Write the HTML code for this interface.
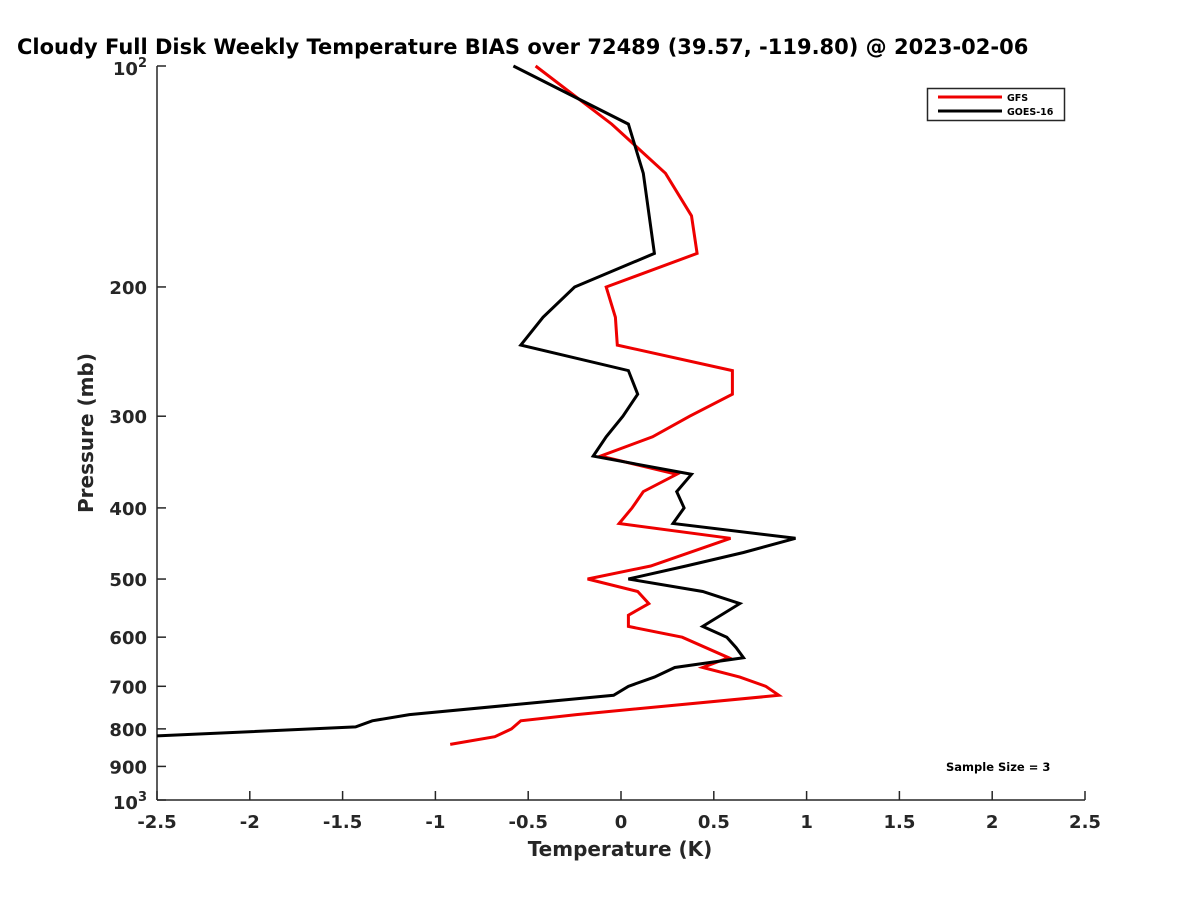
<!DOCTYPE html>
<html><head><meta charset="utf-8"><style>
html,body{margin:0;padding:0;background:#fff;}
svg{display:block;font-family:"DejaVu Sans","Liberation Sans",sans-serif;font-weight:bold;}
</style></head><body>
<svg id="chart" width="1200" height="900" viewBox="0 0 1200 900">
<defs><clipPath id="plotclip"><rect x="157" y="40" width="930" height="761"/></clipPath></defs>
<text x="17" y="54" font-size="21" fill="#000">Cloudy Full Disk Weekly Temperature BIAS over 72489 (39.57, -119.80) @ 2023-02-06</text>
<g id="axes"></g>
<g id="series" clip-path="url(#plotclip)"></g>
<text x="620" y="856" font-size="20" fill="#262626" text-anchor="middle">Temperature (K)</text>
<text transform="translate(93,433) rotate(-90)" font-size="20" fill="#262626" text-anchor="middle">Pressure (mb)</text>
<g>
<rect x="927.5" y="88.5" width="137" height="32" fill="#fff" stroke="#262626" stroke-width="1.5"/>
<line x1="938" y1="97" x2="1002" y2="97" stroke="#e00" stroke-width="3"/>
<text x="1007" y="101" font-size="9.5" fill="#000">GFS</text>
<line x1="938" y1="111" x2="1002" y2="111" stroke="#000" stroke-width="3"/>
<text x="1007" y="115" font-size="9.5" fill="#000">GOES-16</text>
</g>
<text x="946" y="771" font-size="11.5" fill="#000">Sample Size = 3</text>
</svg>
<script>
const xTicks = [-2.5,-2,-1.5,-1,-0.5,0,0.5,1,1.5,2,2.5];
const xTickLabels = ["-2.5","-2","-1.5","-1","-0.5","0","0.5","1","1.5","2","2.5"];
const yTicks = [100,200,300,400,500,600,700,800,900,1000];
const yTickLabels = ["","200","300","400","500","600","700","800","900",""];
const gfsPressure = [100,120,140,160,180,200,220,240,260,280,300,320,340,360,380,400,420,440,480,500,520,540,560,580,600,640,660,680,700,720,765,780,800,820,840];
const gfsBias = [-0.46,-0.05,0.24,0.38,0.41,-0.08,-0.03,-0.02,0.60,0.60,0.37,0.17,-0.11,0.30,0.12,0.06,-0.01,0.59,0.16,-0.18,0.09,0.15,0.04,0.04,0.33,0.58,0.44,0.64,0.78,0.85,-0.24,-0.54,-0.59,-0.68,-0.92];
const goesPressure = [100,120,140,180,200,220,240,260,280,300,320,340,360,380,400,420,440,460,480,500,520,540,580,600,620,640,660,680,700,720,765,780,795,820];
const goesBias = [-0.58,0.04,0.12,0.18,-0.25,-0.42,-0.54,0.04,0.09,0.01,-0.08,-0.15,0.38,0.30,0.34,0.28,0.94,0.66,0.35,0.04,0.44,0.64,0.44,0.57,0.62,0.66,0.29,0.18,0.04,-0.04,-1.14,-1.34,-1.43,-2.6];

const NS='http://www.w3.org/2000/svg';
const X0=157,X1=1085,Y0=66,Y1=800;
function xScale(v){return X0+(v+2.5)/5*(X1-X0);}
function yScale(p){return Y0+Math.log10(p/100)*(Y1-Y0);}
const axes=document.getElementById('axes');
const series=document.getElementById('series');
function mk(tag,attrs,parent){const e=document.createElementNS(NS,tag);for(const k in attrs)e.setAttribute(k,attrs[k]);parent.appendChild(e);return e;}

const xa=mk('line',{x1:X0,y1:Y1,x2:X1,y2:Y1,stroke:'#262626','stroke-width':1.5},axes);


const ya=mk('line',{x1:X0,y1:Y0,x2:X0,y2:Y1,stroke:'#262626','stroke-width':1.5},axes);



xTicks.forEach((v,i)=>{
  const x=xScale(v);
  const t=mk('line',{x1:x,y1:Y1,x2:x,y2:Y1-9,stroke:'#262626','stroke-width':1.5},axes);
  
  
  const l=mk('text',{x:x,y:Y1+28,'font-size':18,fill:'#262626','text-anchor':'middle'},axes);
  
  
  l.textContent=xTickLabels[i];
});
yTicks.forEach((p,i)=>{
  const y=yScale(p);
  const t=mk('line',{x1:X0,y1:y,x2:X0+9,y2:y,stroke:'#262626','stroke-width':1.5},axes);
  
  
  if(yTickLabels[i]){
    const l=mk('text',{x:X0-10,y:y+7,'font-size':18,fill:'#262626','text-anchor':'end'},axes);
    
    
    l.textContent=yTickLabels[i];
  }
});
[[100,'2'],[1000,'3']].forEach(([p,e])=>{
  const y=yScale(p);
  const l=mk('text',{x:X0-10,y:y+9,'font-size':18,fill:'#262626','text-anchor':'end'},axes);
  
  
  l.textContent='10';
  const s=mk('tspan',{dy:-8,'font-size':13},l);
  s.textContent=e;
});

function drawLine(ps,vs,color,name){
  const pts=ps.map((p,i)=>xScale(vs[i]).toFixed(1)+','+yScale(p).toFixed(1)).join(' ');
  const pl=mk('polyline',{points:pts,fill:'none',stroke:color,'stroke-width':3,'stroke-linejoin':'miter'},series);
  
  
}
drawLine(gfsPressure,gfsBias,'#e00','gfs-line');
drawLine(goesPressure,goesBias,'#000','goes16-line');
</script>
</body></html>
